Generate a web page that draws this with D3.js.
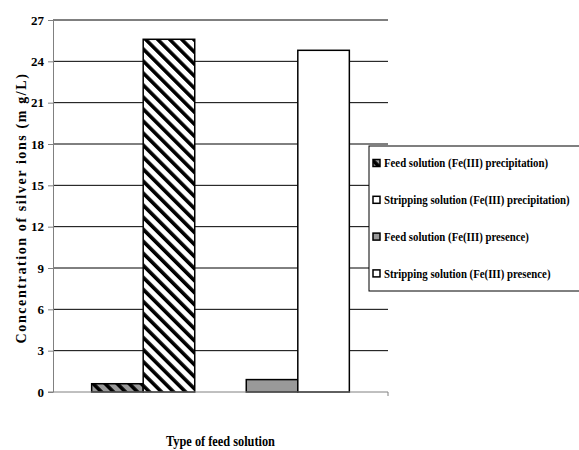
<!DOCTYPE html>
<html>
<head>
<meta charset="utf-8">
<script src="https://cdn.jsdelivr.net/npm/d3@7"></script>
<style>
  body { margin: 0; background: #fff; }
  text { font-family: "Liberation Serif", "Times New Roman", serif; font-weight: bold; }
</style>
</head>
<body>
<div id="chart"></div>
<script>
const categories = ["Fe(III) precipitation", "Fe(III) presence"];
const seriesNames = ["Feed solution", "Stripping solution"];
const feedValues = [0.6, 0.9];
const strippingValues = [25.6, 24.8];
const yTicks = [0, 3, 6, 9, 12, 15, 18, 21, 24, 27];
const legendLabels = [
  "Feed solution (Fe(III) precipitation)",
  "Stripping solution (Fe(III) precipitation)",
  "Feed solution (Fe(III) presence)",
  "Stripping solution (Fe(III) presence)"
];

const width = 579, height = 450;
const margin = { top: 20, right: 191, bottom: 58, left: 53 };

const svg = d3.select("#chart").append("svg")
  .attr("width", width)
  .attr("height", height);

// hatch patterns ("\" stripes)
const defs = svg.append("defs");
function hatch(id, bg) {
  const p = defs.append("pattern")
    .attr("id", id)
    .attr("patternUnits", "userSpaceOnUse")
    .attr("width", 8.5).attr("height", 8.5)
    .attr("patternTransform", "rotate(-45)");
  p.append("rect").attr("width", 8.5).attr("height", 8.5).attr("fill", bg);
  p.append("rect").attr("width", 3.6).attr("height", 8.5).attr("fill", "#000");
}
hatch("hatchGrey", "#999999");
hatch("hatchWhite", "#ffffff");

// fill per category / series
const fills = [["url(#hatchGrey)", "url(#hatchWhite)"], ["#999999", "#ffffff"]];
const legendFills = ["url(#hatchGrey)", "#ffffff", "#999999", "#ffffff"];

const x = d3.scaleBand()
  .domain(categories)
  .range([margin.left, width - margin.right])
  .paddingInner(1 / 3)
  .paddingOuter(0.25);

const xs = d3.scaleBand()
  .domain(seriesNames)
  .range([0, x.bandwidth()]);

const y = d3.scaleLinear()
  .domain([0, 27])
  .range([height - margin.bottom, margin.top]);

// gridlines
svg.append("g")
  .selectAll("line")
  .data(yTicks.filter(d => d > 0))
  .join("line")
    .attr("x1", margin.left).attr("x2", width - margin.right)
    .attr("y1", d => y(d)).attr("y2", d => y(d))
    .attr("stroke", "#000").attr("stroke-width", 1);

// bars
const rows = categories.map((c, i) => ({ cat: c, i, vals: [feedValues[i], strippingValues[i]] }));
svg.append("g")
  .selectAll("g")
  .data(rows)
  .join("g")
    .attr("transform", d => `translate(${x(d.cat)},0)`)
    .selectAll("rect")
    .data(d => d.vals.map((v, j) => ({ v, j, i: d.i })))
    .join("rect")
      .attr("x", d => xs(seriesNames[d.j]))
      .attr("y", d => y(d.v))
      .attr("width", xs.bandwidth())
      .attr("height", d => y(0) - y(d.v))
      .attr("fill", d => fills[d.i][d.j])
      .attr("stroke", "#000")
      .attr("stroke-width", 1.5);

// y axis
const yAxis = svg.append("g")
  .attr("transform", `translate(${margin.left},0)`)
  .call(d3.axisLeft(y).tickValues(yTicks).tickSize(5).tickSizeOuter(0));
yAxis.select(".domain").attr("stroke", "#808080");
yAxis.selectAll(".tick line").attr("stroke", "#808080");
yAxis.selectAll(".tick text")
  .attr("x", -9)
  .attr("font-size", 13)
  .attr("fill", "#000");

// x axis (baseline only, with end tick)
const xAxis = svg.append("g")
  .attr("transform", `translate(0,${y(0)})`)
  .call(d3.axisBottom(x).tickValues([]).tickSizeOuter(4));
xAxis.select(".domain").attr("stroke", "#808080")
  .attr("d", `M${margin.left - 5},0H${width - margin.right}V4`);

// condense text like the original narrow bold font
function squeeze(sel, k) {
  sel.each(function () {
    const w = this.getComputedTextLength();
    d3.select(this).attr("textLength", w * k).attr("lengthAdjust", "spacingAndGlyphs");
  });
}

svg.append("text")
  .attr("transform", `translate(26,${(margin.top + y(0)) / 2 + 2}) rotate(-90)`)
  .attr("text-anchor", "middle")
  .attr("font-size", 14)
  .attr("letter-spacing", 1.6)
  .text("Concentration of silver ions (m g/L)");

svg.append("text")
  .attr("x", (margin.left + width - margin.right) / 2)
  .attr("y", 446)
  .attr("text-anchor", "middle")
  .attr("font-size", 14)
  .text("Type of feed solution")
  .call(squeeze, 0.88);

// legend
const legend = svg.append("g").attr("transform", "translate(369,146)");
legend.append("rect")
  .attr("width", 230).attr("height", 145)
  .attr("fill", "#fff").attr("stroke", "#000").attr("stroke-width", 1);

const item = legend.selectAll("g.item")
  .data(legendLabels)
  .join("g")
    .attr("class", "item")
    .attr("transform", (d, i) => `translate(4,${17 + i * 36.8})`);

item.append("rect")
  .attr("x", 0).attr("y", -3.5)
  .attr("width", 7).attr("height", 7)
  .attr("fill", (d, i) => legendFills[i])
  .attr("stroke", "#000").attr("stroke-width", 1.5);

const labels = item.append("text")
  .attr("dy", "0.35em")
  .attr("font-size", 12.5)
  .text(d => d);
const maxW = d3.max(labels.nodes(), n => n.getComputedTextLength());
labels.attr("transform", `translate(11,0) scale(${186 / maxW},1)`);
</script>
</body>
</html>
